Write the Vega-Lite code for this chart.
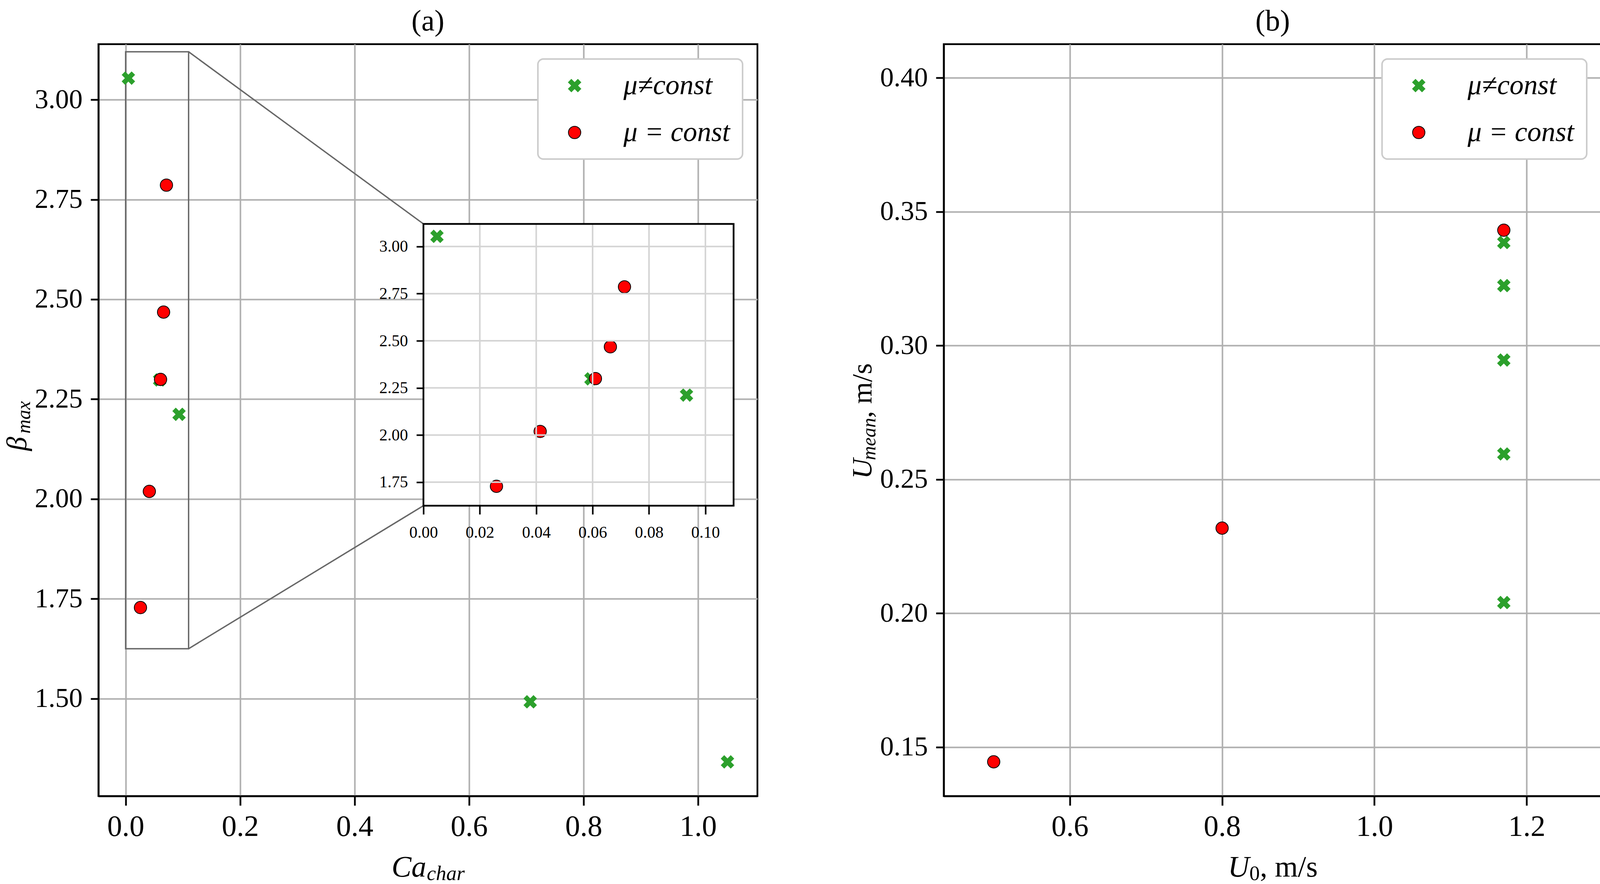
{
  "$schema": "https://vega.github.io/schema/vega-lite/v6.json",
  "background": "white",
  "padding": {"left": 5, "top": 14, "right": 0, "bottom": 0},
  "spacing": 227,
  "config": {
    "font": "Liberation Serif",
    "view": {"stroke": "black", "strokeWidth": 4.5},
    "axis": {
      "labelFont": "Liberation Serif", "labelFontSize": 70, "labelColor": "black",
      "titleFont": "Liberation Serif", "titleColor": "black", "titleFontWeight": "normal",
      "domainColor": "black", "domainWidth": 4.5, "tickColor": "black", "tickWidth": 4.5, "tickSize": 24,
      "gridColor": "#b0b0b0", "gridWidth": 4, "gridOpacity": 1,
      "labelFlush": false, "labelOverlap": false
    },
    "legend": {
      "orient": "top-right", "offset": 38, "padding": 32,
      "fillColor": "white", "strokeColor": "#cccccc", "strokeWidth": 4, "cornerRadius": 14,
      "labelFont": "Liberation Serif", "labelFontSize": 72, "labelFontStyle": "italic", "labelColor": "black",
      "labelLimit": 0, "symbolSize": 1000, "symbolStrokeWidth": 2, "symbolOffset": 26, "labelOffset": 89, "rowPadding": 48
    },
    "title": {"font": "Liberation Serif", "fontSize": 76, "fontWeight": "normal", "color": "black", "anchor": "middle", "offset": 19}
  },
  "datasets": {
    "a": [
      {"x": 0.0048, "y": 3.054, "series": "μ≠const"},
      {"x": 0.0594, "y": 2.298, "series": "μ≠const"},
      {"x": 0.0933, "y": 2.212, "series": "μ≠const"},
      {"x": 0.7068, "y": 1.492, "series": "μ≠const"},
      {"x": 1.0514, "y": 1.3415, "series": "μ≠const"},
      {"x": 0.0713, "y": 2.786, "series": "μ = const"},
      {"x": 0.0663, "y": 2.468, "series": "μ = const"},
      {"x": 0.061, "y": 2.2994, "series": "μ = const"},
      {"x": 0.0414, "y": 2.019, "series": "μ = const"},
      {"x": 0.0259, "y": 1.728, "series": "μ = const"}
    ],
    "b": [
      {"x": 1.17, "y": 0.3385, "series": "μ≠const"},
      {"x": 1.17, "y": 0.3224, "series": "μ≠const"},
      {"x": 1.17, "y": 0.2946, "series": "μ≠const"},
      {"x": 1.17, "y": 0.2595, "series": "μ≠const"},
      {"x": 1.17, "y": 0.204, "series": "μ≠const"},
      {"x": 0.5, "y": 0.1445, "series": "μ = const"},
      {"x": 0.8, "y": 0.2318, "series": "μ = const"},
      {"x": 1.17, "y": 0.3431, "series": "μ = const"}
    ],
    "box": [{"x1": 0, "x2": 0.11, "y1": 1.625, "y2": 3.12}],
    "conn": [
      {"x1": 0.11, "y1": 3.12, "x2": 0.5202, "y2": 2.6889},
      {"x1": 0.11, "y1": 1.625, "x2": 0.5202, "y2": 1.9831}
    ],
    "ixt": [{"v": 0}, {"v": 0.02}, {"v": 0.04}, {"v": 0.06}, {"v": 0.08}, {"v": 0.1}],
    "iyt": [{"v": 1.75}, {"v": 2}, {"v": 2.25}, {"v": 2.5}, {"v": 2.75}, {"v": 3}]
  },
  "resolve": {
    "scale": {"x": "independent", "y": "independent", "fill": "independent", "stroke": "independent", "shape": "independent"},
    "legend": {"fill": "independent", "stroke": "independent", "shape": "independent"}
  },
  "hconcat": [
    {
      "width": 1687,
      "height": 1924,
      "title": {"text": "(a)"},
      "layer": [
        {
          "layer": [
            {
              "data": {"name": "box"},
              "mark": {"type": "rect", "filled": false, "stroke": "#666666", "strokeWidth": 3.5},
              "encoding": {
                "x": {"field": "x1", "type": "quantitative", "scale": {"domain": [-0.0475, 1.1037], "nice": false, "zero": false}, "axis": null},
                "x2": {"field": "x2"},
                "y": {"field": "y1", "type": "quantitative", "scale": {"domain": [1.2559, 3.1391], "nice": false, "zero": false}, "axis": null},
                "y2": {"field": "y2"}
              }
            },
            {
              "data": {"name": "conn"},
              "mark": {"type": "rule", "stroke": "#666666", "strokeWidth": 3.5},
              "encoding": {
                "x": {"field": "x1", "type": "quantitative", "scale": {"domain": [-0.0475, 1.1037], "nice": false, "zero": false}, "axis": null},
                "x2": {"field": "x2"},
                "y": {"field": "y1", "type": "quantitative", "scale": {"domain": [1.2559, 3.1391], "nice": false, "zero": false}, "axis": null},
                "y2": {"field": "y2"}
              }
            },
            {
              "data": {"name": "a"},
              "mark": {"type": "point", "filled": true, "opacity": 1, "size": 1000, "strokeWidth": 2},
              "encoding": {
                "x": {"field": "x", "type": "quantitative", "scale": {"domain": [-0.0475, 1.1037], "nice": false, "zero": false},
                  "axis": {"orient": "bottom", "values": [0, 0.2, 0.4, 0.6, 0.8, 1.0], "format": ".1f", "grid": true, "labelFontSize": 76, "tickSize": 24, "labelPadding": 17,
                    "title": "Ca", "titleFontStyle": "italic", "titleFontSize": 76, "titleX": 750, "titleY": 205, "titleAlign": "left", "titleBaseline": "alphabetic"}},
                "y": {"field": "y", "type": "quantitative", "scale": {"domain": [1.2559, 3.1391], "nice": false, "zero": false},
                  "axis": {"orient": "left", "values": [1.5, 1.75, 2, 2.25, 2.5, 2.75, 3], "format": ".2f", "grid": true, "tickSize": 20, "labelPadding": 21,
                    "title": "β", "titleFontStyle": "italic", "titleFontSize": 72, "titleAngle": 270, "titleX": -186, "titleY": 1040, "titleAlign": "left", "titleBaseline": "alphabetic"}},
                "fill": {"field": "series", "type": "nominal", "scale": {"domain": ["μ≠const", "μ = const"], "range": ["#2ca02c", "#ff0000"]}, "legend": {"title": null}},
                "stroke": {"field": "series", "type": "nominal", "scale": {"domain": ["μ≠const", "μ = const"], "range": ["#2ca02c", "#000000"]}, "legend": {"title": null}},
                "shape": {"field": "series", "type": "nominal", "scale": {"domain": ["μ≠const", "μ = const"], "range": ["M-1,-0.528L-0.528,-1L0,-0.471L0.528,-1L1,-0.528L0.471,0L1,0.528L0.528,1L0,0.471L-0.528,1L-1,0.528L-0.471,0Z", "circle"]}, "legend": {"title": null}}
              }
            },
            {
              "data": {"name": "a"},
              "mark": {"type": "point", "opacity": 0},
              "encoding": {
                "x": {"field": "x", "type": "quantitative", "scale": {"domain": [-0.0475, 1.1037], "nice": false, "zero": false},
                  "axis": {"orient": "bottom", "grid": false, "ticks": false, "labels": false, "domain": false,
                    "title": "char", "titleFontStyle": "italic", "titleFontSize": 53, "titleX": 840, "titleY": 214, "titleAlign": "left", "titleBaseline": "alphabetic"}},
                "y": {"field": "y", "type": "quantitative", "scale": {"domain": [1.2559, 3.1391], "nice": false, "zero": false},
                  "axis": {"orient": "left", "grid": false, "ticks": false, "labels": false, "domain": false,
                    "title": "max", "titleFontStyle": "italic", "titleFontSize": 50, "titleAngle": 270, "titleX": -176, "titleY": 996, "titleAlign": "left", "titleBaseline": "alphabetic"}}
              }
            }
          ],
          "resolve": {"axis": {"x": "independent", "y": "independent"}}
        },
        {
          "layer": [
            {
              "data": {"name": "box"},
              "mark": {"type": "rect", "fill": "white", "strokeWidth": 0},
              "encoding": {
                "x": {"field": "x1", "type": "quantitative", "scale": {"domain": [0, 0.11], "range": [832, 1626], "nice": false, "zero": false}, "axis": null},
                "x2": {"field": "x2"},
                "y": {"field": "y1", "type": "quantitative", "scale": {"domain": [1.625, 3.12], "range": [1181, 460], "nice": false, "zero": false}, "axis": null},
                "y2": {"field": "y2"}
              }
            },
            {
              "data": {"name": "a"},
              "transform": [{"filter": "datum.x <= 0.11"}],
              "mark": {"type": "point", "filled": true, "opacity": 1, "size": 1000, "strokeWidth": 2},
              "encoding": {
                "x": {"field": "x", "type": "quantitative", "scale": {"domain": [0, 0.11], "range": [832, 1626], "nice": false, "zero": false},
                  "axis": {"orient": "bottom", "offset": -743, "values": [0, 0.02, 0.04, 0.06, 0.08, 0.1], "format": ".2f", "grid": false, "domain": false,
                    "tickSize": 22, "tickWidth": 4, "labelFontSize": 42, "labelPadding": 26, "title": null, "zindex": 1}},
                "y": {"field": "y", "type": "quantitative", "scale": {"domain": [1.625, 3.12], "range": [1181, 460], "nice": false, "zero": false},
                  "axis": {"orient": "left", "offset": -832, "values": [1.75, 2, 2.25, 2.5, 2.75, 3], "format": ".2f", "grid": false, "domain": false,
                    "tickSize": 18, "tickWidth": 4, "labelFontSize": 42, "labelPadding": 22, "title": null, "zindex": 1}},
                "fill": {"field": "series", "type": "nominal", "scale": {"domain": ["μ≠const", "μ = const"], "range": ["#2ca02c", "#ff0000"]}, "legend": {"title": null}},
                "stroke": {"field": "series", "type": "nominal", "scale": {"domain": ["μ≠const", "μ = const"], "range": ["#2ca02c", "#000000"]}, "legend": {"title": null}},
                "shape": {"field": "series", "type": "nominal", "scale": {"domain": ["μ≠const", "μ = const"], "range": ["M-1,-0.528L-0.528,-1L0,-0.471L0.528,-1L1,-0.528L0.471,0L1,0.528L0.528,1L0,0.471L-0.528,1L-1,0.528L-0.471,0Z", "circle"]}, "legend": {"title": null}}
              }
            },
            {
              "data": {"name": "ixt"},
              "mark": {"type": "rule", "stroke": "#d4d4d4", "strokeWidth": 4},
              "encoding": {
                "x": {"field": "v", "type": "quantitative", "scale": {"domain": [0, 0.11], "range": [832, 1626], "nice": false, "zero": false}, "axis": null},
                "y": {"datum": 1.625, "type": "quantitative", "scale": {"domain": [1.625, 3.12], "range": [1181, 460], "nice": false, "zero": false}, "axis": null},
                "y2": {"datum": 3.12}
              }
            },
            {
              "data": {"name": "iyt"},
              "mark": {"type": "rule", "stroke": "#d4d4d4", "strokeWidth": 4},
              "encoding": {
                "y": {"field": "v", "type": "quantitative", "scale": {"domain": [1.625, 3.12], "range": [1181, 460], "nice": false, "zero": false}, "axis": null},
                "x": {"datum": 0, "type": "quantitative", "scale": {"domain": [0, 0.11], "range": [832, 1626], "nice": false, "zero": false}, "axis": null},
                "x2": {"datum": 0.11}
              }
            },
            {
              "data": {"name": "box"},
              "mark": {"type": "rect", "filled": false, "stroke": "black", "strokeWidth": 4.5},
              "encoding": {
                "x": {"field": "x1", "type": "quantitative", "scale": {"domain": [0, 0.11], "range": [832, 1626], "nice": false, "zero": false}, "axis": null},
                "x2": {"field": "x2"},
                "y": {"field": "y1", "type": "quantitative", "scale": {"domain": [1.625, 3.12], "range": [1181, 460], "nice": false, "zero": false}, "axis": null},
                "y2": {"field": "y2"}
              }
            }
          ],
          "resolve": {"axis": {"x": "independent", "y": "independent"}}
        }
      ],
      "resolve": {"scale": {"x": "independent", "y": "independent"}, "axis": {"x": "independent", "y": "independent"}}
    },
    {
      "width": 1684,
      "height": 1924,
      "title": {"text": "(b)"},
      "data": {"name": "b"},
      "layer": [
        {
          "mark": {"type": "point", "filled": true, "opacity": 1, "size": 1000, "strokeWidth": 2},
          "encoding": {
            "x": {"field": "x", "type": "quantitative", "scale": {"domain": [0.4344, 1.2984], "nice": false, "zero": false},
              "axis": {"orient": "bottom", "values": [0.6, 0.8, 1.0, 1.2], "format": ".1f", "grid": true, "labelFontSize": 76, "tickSize": 24, "labelPadding": 17,
                "title": "U", "titleFontStyle": "italic", "titleFontSize": 76, "titleX": 727, "titleY": 205, "titleAlign": "left", "titleBaseline": "alphabetic"}},
            "y": {"field": "y", "type": "quantitative", "scale": {"domain": [0.1317, 0.4126], "nice": false, "zero": false},
              "axis": {"orient": "left", "values": [0.15, 0.2, 0.25, 0.3, 0.35, 0.4], "format": ".2f", "grid": true, "tickSize": 20, "labelPadding": 21,
                "title": "U", "titleFontStyle": "italic", "titleFontSize": 72, "titleAngle": 270, "titleX": -186, "titleY": 1112, "titleAlign": "left", "titleBaseline": "alphabetic"}},
            "fill": {"field": "series", "type": "nominal", "scale": {"domain": ["μ≠const", "μ = const"], "range": ["#2ca02c", "#ff0000"]}, "legend": {"title": null}},
            "stroke": {"field": "series", "type": "nominal", "scale": {"domain": ["μ≠const", "μ = const"], "range": ["#2ca02c", "#000000"]}, "legend": {"title": null}},
            "shape": {"field": "series", "type": "nominal", "scale": {"domain": ["μ≠const", "μ = const"], "range": ["M-1,-0.528L-0.528,-1L0,-0.471L0.528,-1L1,-0.528L0.471,0L1,0.528L0.528,1L0,0.471L-0.528,1L-1,0.528L-0.471,0Z", "circle"]}, "legend": {"title": null}}
          }
        },
        {
          "mark": {"type": "point", "opacity": 0},
          "encoding": {
            "x": {"field": "x", "type": "quantitative", "scale": {"domain": [0.4344, 1.2984], "nice": false, "zero": false},
              "axis": {"orient": "bottom", "grid": false, "ticks": false, "labels": false, "domain": false,
                "title": "0", "titleFontStyle": "normal", "titleFontSize": 53, "titleX": 782, "titleY": 214, "titleAlign": "left", "titleBaseline": "alphabetic"}},
            "y": {"field": "y", "type": "quantitative", "scale": {"domain": [0.1317, 0.4126], "nice": false, "zero": false},
              "axis": {"orient": "left", "grid": false, "ticks": false, "labels": false, "domain": false,
                "title": "mean", "titleFontStyle": "italic", "titleFontSize": 50, "titleAngle": 270, "titleX": -176, "titleY": 1064, "titleAlign": "left", "titleBaseline": "alphabetic"}}
          }
        },
        {
          "mark": {"type": "point", "opacity": 0},
          "encoding": {
            "x": {"field": "x", "type": "quantitative", "scale": {"domain": [0.4344, 1.2984], "nice": false, "zero": false},
              "axis": {"orient": "bottom", "grid": false, "ticks": false, "labels": false, "domain": false,
                "title": ", m/s", "titleFontStyle": "normal", "titleFontSize": 76, "titleX": 809, "titleY": 205, "titleAlign": "left", "titleBaseline": "alphabetic"}},
            "y": {"field": "y", "type": "quantitative", "scale": {"domain": [0.1317, 0.4126], "nice": false, "zero": false},
              "axis": {"orient": "left", "grid": false, "ticks": false, "labels": false, "domain": false,
                "title": ", m/s", "titleFontStyle": "normal", "titleFontSize": 72, "titleAngle": 270, "titleX": -186, "titleY": 956, "titleAlign": "left", "titleBaseline": "alphabetic"}}
          }
        }
      ],
      "resolve": {"axis": {"x": "independent", "y": "independent"}}
    }
  ]
}
